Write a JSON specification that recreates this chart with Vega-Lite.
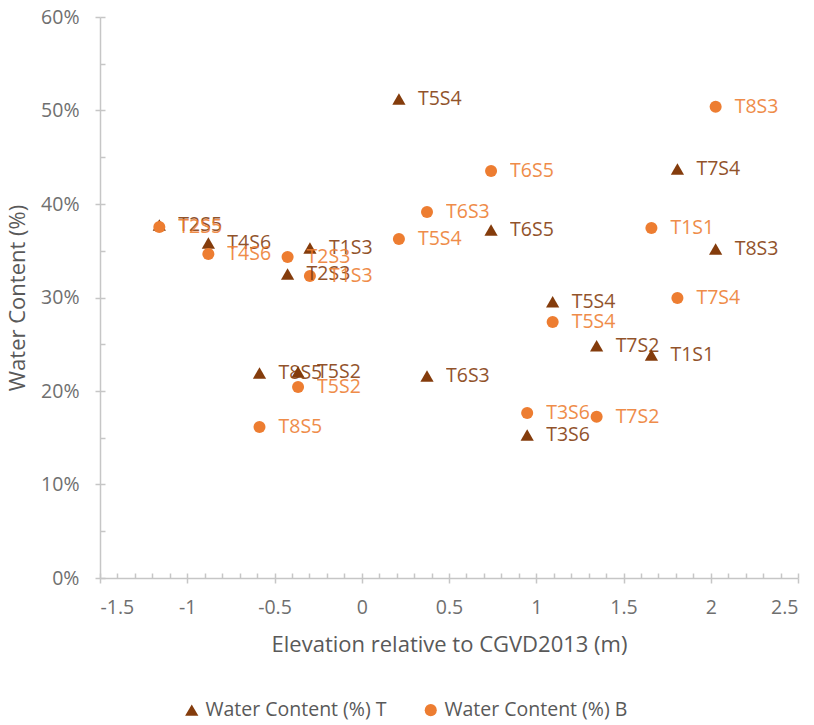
{
  "$schema": "https://vega.github.io/schema/vega-lite/v6.json",
  "width": 698,
  "height": 561,
  "autosize": "none",
  "padding": {"left": 100, "top": 17, "right": 16, "bottom": 147},
  "config": {
    "view": {"stroke": null},
    "font": "Open Sans",
    "axis": {
      "grid": false,
      "domainColor": "#c6c6c6",
      "domainWidth": 1.5,
      "tickColor": "#c6c6c6",
      "tickWidth": 1.5,
      "labelFont": "Open Sans",
      "labelFontSize": 19.5,
      "labelColor": "#6f6f6f",
      "titleFont": "Open Sans",
      "titleFontSize": 22,
      "titleFontWeight": "normal",
      "titleColor": "#595959"
    }
  },
  "data": {
    "values": [
      {"series": "Water Content (%) T", "site": "T2S5", "elev": -1.16, "wc": 0.3775},
      {"series": "Water Content (%) T", "site": "T4S6", "elev": -0.879, "wc": 0.3583},
      {"series": "Water Content (%) T", "site": "T1S3", "elev": -0.297, "wc": 0.3529},
      {"series": "Water Content (%) T", "site": "T2S3", "elev": -0.425, "wc": 0.3251},
      {"series": "Water Content (%) T", "site": "T8S5", "elev": -0.586, "wc": 0.2192},
      {"series": "Water Content (%) T", "site": "T5S2", "elev": -0.365, "wc": 0.2203},
      {"series": "Water Content (%) T", "site": "T6S3", "elev": 0.374, "wc": 0.216},
      {"series": "Water Content (%) T", "site": "T5S4", "elev": 0.213, "wc": 0.5123},
      {"series": "Water Content (%) T", "site": "T6S5", "elev": 0.741, "wc": 0.3722},
      {"series": "Water Content (%) T", "site": "T5S4", "elev": 1.094, "wc": 0.2955},
      {"series": "Water Content (%) T", "site": "T7S2", "elev": 1.346, "wc": 0.2485},
      {"series": "Water Content (%) T", "site": "T1S1", "elev": 1.66, "wc": 0.2385},
      {"series": "Water Content (%) T", "site": "T7S4", "elev": 1.809, "wc": 0.4374},
      {"series": "Water Content (%) T", "site": "T8S3", "elev": 2.028, "wc": 0.3519},
      {"series": "Water Content (%) T", "site": "T3S6", "elev": 0.948, "wc": 0.1529},
      {"series": "Water Content (%) B", "site": "T2S5", "elev": -1.16, "wc": 0.3754},
      {"series": "Water Content (%) B", "site": "T4S6", "elev": -0.879, "wc": 0.3465},
      {"series": "Water Content (%) B", "site": "T2S3", "elev": -0.425, "wc": 0.3433},
      {"series": "Water Content (%) B", "site": "T1S3", "elev": -0.297, "wc": 0.323},
      {"series": "Water Content (%) B", "site": "T5S2", "elev": -0.365, "wc": 0.2043},
      {"series": "Water Content (%) B", "site": "T8S5", "elev": -0.586, "wc": 0.1615},
      {"series": "Water Content (%) B", "site": "T5S4", "elev": 0.213, "wc": 0.3626},
      {"series": "Water Content (%) B", "site": "T6S3", "elev": 0.374, "wc": 0.3914},
      {"series": "Water Content (%) B", "site": "T6S5", "elev": 0.741, "wc": 0.4353},
      {"series": "Water Content (%) B", "site": "T5S4", "elev": 1.094, "wc": 0.2738},
      {"series": "Water Content (%) B", "site": "T3S6", "elev": 0.948, "wc": 0.1765},
      {"series": "Water Content (%) B", "site": "T7S2", "elev": 1.346, "wc": 0.1725},
      {"series": "Water Content (%) B", "site": "T1S1", "elev": 1.66, "wc": 0.3743},
      {"series": "Water Content (%) B", "site": "T7S4", "elev": 1.809, "wc": 0.2995},
      {"series": "Water Content (%) B", "site": "T8S3", "elev": 2.028, "wc": 0.5041}
    ]
  },
  "layer": [
    {
      "mark": {"type": "point", "filled": true, "opacity": 1},
      "encoding": {
        "x": {
          "field": "elev", "type": "quantitative",
          "scale": {"domain": [-1.5, 2.5], "nice": false, "zero": false},
          "axis": {
            "orient": "bottom",
            "title": "Elevation relative to CGVD2013 (m)",
            "values": [-1.5, -1, -0.5, 0, 0.5, 1, 1.5, 2, 2.5],
            "labelExpr": "'' + datum.value",
            "tickSize": 5,
            "labelPadding": 15,
            "titlePadding": 18
          }
        },
        "y": {
          "field": "wc", "type": "quantitative",
          "scale": {"domain": [0, 0.6], "nice": false},
          "axis": {
            "orient": "left",
            "title": "Water Content (%)",
            "values": [0, 0.1, 0.2, 0.3, 0.4, 0.5, 0.6],
            "format": ".0%",
            "tickSize": 5,
            "labelPadding": 16,
            "titlePadding": 11
          }
        },
        "size": {
          "field": "series", "type": "nominal",
          "scale": {
            "domain": ["Water Content (%) T", "Water Content (%) B"],
            "range": [175, 145]
          },
          "legend": null
        },
        "color": {
          "field": "series", "type": "nominal",
          "scale": {
            "domain": ["Water Content (%) T", "Water Content (%) B"],
            "range": ["#843c0c", "#ed7d31"]
          },
          "legend": {
            "title": null,
            "orient": "none",
            "direction": "horizontal",
            "legendX": 82,
            "legendY": 683,
            "padding": 0,
            "labelFont": "Open Sans",
            "labelFontSize": 19.5,
            "labelColor": "#595959",
            "labelLimit": 400,
            "labelOffset": 4,
            "symbolSize": 150,
            "columnPadding": 34
          }
        },
        "shape": {
          "field": "series", "type": "nominal",
          "scale": {
            "domain": ["Water Content (%) T", "Water Content (%) B"],
            "range": ["triangle-up", "circle"]
          },
          "legend": {
            "title": null,
            "orient": "none",
            "direction": "horizontal",
            "legendX": 82,
            "legendY": 683,
            "padding": 0,
            "labelFont": "Open Sans",
            "labelFontSize": 19.5,
            "labelColor": "#595959",
            "labelLimit": 400,
            "labelOffset": 4,
            "symbolSize": 150,
            "columnPadding": 34
          }
        }
      }
    },
    {
      "mark": {"type": "text", "align": "left", "baseline": "middle", "dx": 19, "fontSize": 19.5, "font": "Open Sans", "opacity": 0.88},
      "encoding": {
        "x": {
          "field": "elev", "type": "quantitative",
          "axis": {
            "orient": "bottom",
            "title": null, "labels": false, "domain": false, "grid": false,
            "tickSize": -5,
            "values": [-1.5, -1.4, -1.3, -1.2, -1.1, -1, -0.9, -0.8, -0.7, -0.6, -0.5, -0.4, -0.3, -0.2, -0.1, 0, 0.1, 0.2, 0.3, 0.4, 0.5, 0.6, 0.7, 0.8, 0.9, 1, 1.1, 1.2, 1.3, 1.4, 1.5, 1.6, 1.7, 1.8, 1.9, 2, 2.1, 2.2, 2.3, 2.4, 2.5]
          }
        },
        "y": {
          "field": "wc", "type": "quantitative",
          "axis": {
            "orient": "left",
            "title": null, "labels": false, "domain": false, "grid": false,
            "tickSize": -5,
            "values": [0, 0.05, 0.1, 0.15, 0.2, 0.25, 0.3, 0.35, 0.4, 0.45, 0.5, 0.55, 0.6]
          }
        },
        "text": {"field": "site"},
        "color": {"field": "series", "type": "nominal", "legend": null}
      }
    }
  ],
  "resolve": {"axis": {"x": "independent", "y": "independent"}}
}
